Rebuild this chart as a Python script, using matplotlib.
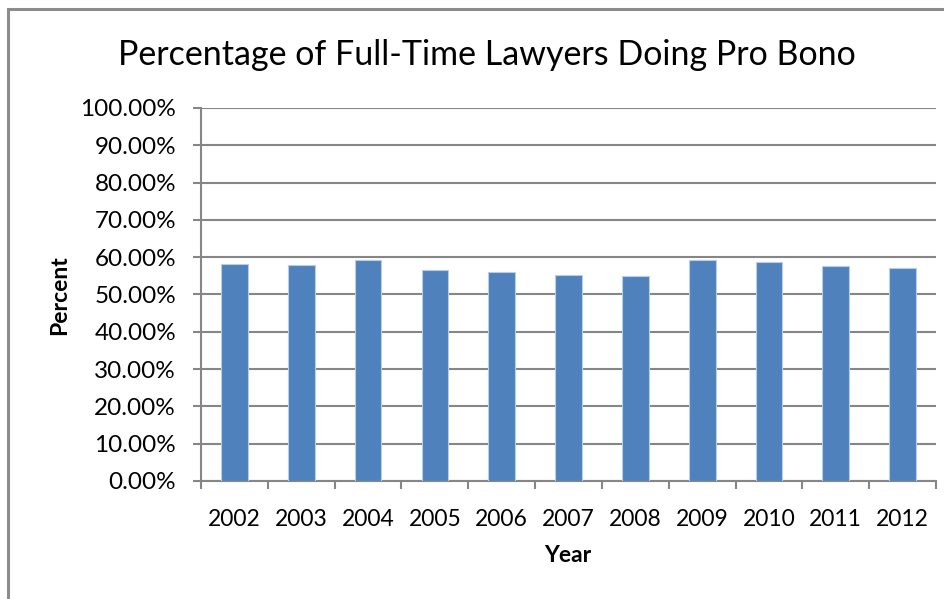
import matplotlib.pyplot as plt
from matplotlib.patches import Rectangle
from matplotlib.ticker import PercentFormatter, MultipleLocator

years = ["2002", "2003", "2004", "2005", "2006", "2007", "2008", "2009", "2010", "2011", "2012"]
percent = [58.2, 57.9, 59.3, 56.7, 55.9, 55.1, 54.9, 59.2, 58.8, 57.6, 57.1]

plt.rcParams['font.family'] = ['Lato', 'DejaVu Sans']

fig = plt.figure(figsize=(9.45, 5.99), dpi=100)
ax = fig.add_axes([0.2127, 0.197, 0.7778, 0.6227])

# outer chart border (runs off the right and bottom edges)
fig.patches.append(Rectangle((8 / 945, -0.05), 1.2, 1 - 9 / 599 + 0.05,
                             transform=fig.transFigure, fill=False,
                             edgecolor="#8c8c8c", linewidth=2.2))

x = list(range(len(years)))
ax.bar(x, percent, width=0.4, color="#4F81BD", edgecolor="#b9cde5",
       linewidth=0.8, zorder=3)

ax.set_xlim(-0.5, len(years) - 0.5)
ax.set_ylim(0, 100)
ax.yaxis.set_major_locator(MultipleLocator(10))
ax.yaxis.set_major_formatter(PercentFormatter(decimals=2))
ax.yaxis.grid(True, color="#868686", linewidth=1.5, zorder=0)

# category ticks at the boundaries between bars
ax.set_xticks([i - 0.5 for i in range(len(years) + 1)], minor=False)
ax.set_xticklabels([])
ax.set_xticks(x, minor=True)
ax.set_xticklabels(years, minor=True)
ax.tick_params(axis="x", which="major", length=6, width=1.5, color="#868686")
ax.tick_params(axis="x", which="minor", length=0, pad=20, labelsize=16.5)
ax.tick_params(axis="y", length=6, width=1.5, color="#868686", labelsize=17.5, pad=12)

for side in ["top", "right"]:
    ax.spines[side].set_visible(False)
for side in ["left", "bottom"]:
    ax.spines[side].set_color("#868686")
    ax.spines[side].set_linewidth(1.5)

fig.text(487 / 945, 1 - 55 / 599, "Percentage of Full-Time Lawyers Doing Pro Bono",
         fontsize=24.5, ha="center", va="center")
fig.text(568 / 945, 1 - 555 / 599, "Year", fontsize=16.5, fontweight="bold",
         ha="center", va="center")
fig.text(60 / 945, 1 - 295 / 599, "Percent", fontsize=16.5, fontweight="bold",
         ha="center", va="center", rotation=90)

fig.savefig("out.png", dpi=100)
